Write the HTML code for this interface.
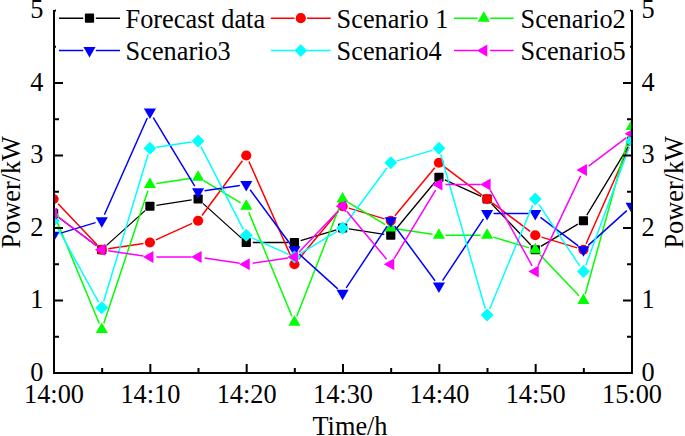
<!DOCTYPE html>
<html><head><meta charset="utf-8"><style>
html,body{margin:0;padding:0;background:#fff;}
svg{display:block;}
text{font-family:"Liberation Serif",serif;font-size:26.3px;fill:#000;}
</style></head><body>
<svg width="685" height="436" viewBox="0 0 685 436">
<defs><clipPath id="pc"><rect x="54.0" y="0" width="578.0" height="373.0"/></clipPath></defs>
<g clip-path="url(#pc)">
<path d="M58.79 217.41L96.57 245.84M106.59 245.39L145.11 210.61M156.36 205.28L191.67 199.97M202.92 203.36L241.44 238.14M252.77 242.50L287.93 242.50M300.66 240.63L336.38 229.87M349.03 228.97L384.34 234.28M394.92 230.25L434.78 182.25M444.86 179.93L481.18 196.32M491.57 203.71L530.79 245.04M540.84 246.40L577.86 224.10M586.79 215.19L628.24 146.56" stroke="#000000" stroke-width="1.3" fill="none"/>
<rect x="49.00" y="208.90" width="9.2" height="9.2" rx="0.8" fill="#000000"/>
<rect x="97.17" y="245.15" width="9.2" height="9.2" rx="0.8" fill="#000000"/>
<rect x="145.33" y="201.65" width="9.2" height="9.2" rx="0.8" fill="#000000"/>
<rect x="193.50" y="194.40" width="9.2" height="9.2" rx="0.8" fill="#000000"/>
<rect x="241.67" y="237.90" width="9.2" height="9.2" rx="0.8" fill="#000000"/>
<rect x="289.83" y="237.90" width="9.2" height="9.2" rx="0.8" fill="#000000"/>
<rect x="338.00" y="223.40" width="9.2" height="9.2" rx="0.8" fill="#000000"/>
<rect x="386.17" y="230.65" width="9.2" height="9.2" rx="0.8" fill="#000000"/>
<rect x="434.33" y="172.65" width="9.2" height="9.2" rx="0.8" fill="#000000"/>
<rect x="482.50" y="194.40" width="9.2" height="9.2" rx="0.8" fill="#000000"/>
<rect x="530.67" y="245.15" width="9.2" height="9.2" rx="0.8" fill="#000000"/>
<rect x="578.83" y="216.15" width="9.2" height="9.2" rx="0.8" fill="#000000"/>
<rect x="627.00" y="136.40" width="9.2" height="9.2" rx="0.8" fill="#000000"/>
<path d="M58.07 203.71L97.29 245.04M108.19 248.78L143.51 243.47M155.86 239.82L192.18 223.43M201.96 215.52L242.41 160.73M248.90 161.44L291.80 258.31M298.59 259.25L338.45 211.25M348.82 208.12L384.54 218.88M394.92 215.75L434.78 167.75M444.13 166.66L481.91 195.09M492.29 202.91L530.07 231.34M541.49 237.12L577.21 247.88M586.07 243.81L628.97 146.94" stroke="#ff0000" stroke-width="1.5" fill="none"/>
<circle cx="53.60" cy="199.00" r="5.1" fill="#ff0000"/>
<circle cx="101.77" cy="249.75" r="5.1" fill="#ff0000"/>
<circle cx="149.93" cy="242.50" r="5.1" fill="#ff0000"/>
<circle cx="198.10" cy="220.75" r="5.1" fill="#ff0000"/>
<circle cx="246.27" cy="155.50" r="5.1" fill="#ff0000"/>
<circle cx="294.43" cy="264.25" r="5.1" fill="#ff0000"/>
<circle cx="342.60" cy="206.25" r="5.1" fill="#ff0000"/>
<circle cx="390.77" cy="220.75" r="5.1" fill="#ff0000"/>
<circle cx="438.93" cy="162.75" r="5.1" fill="#ff0000"/>
<circle cx="487.10" cy="199.00" r="5.1" fill="#ff0000"/>
<circle cx="535.27" cy="235.25" r="5.1" fill="#ff0000"/>
<circle cx="583.43" cy="249.75" r="5.1" fill="#ff0000"/>
<circle cx="631.60" cy="141.00" r="5.1" fill="#ff0000"/>
<path d="M56.09 219.50L99.27 323.50M103.82 323.33L147.88 190.67M156.36 183.53L191.67 178.22M203.67 180.60L240.70 202.90M248.76 212.25L291.94 316.25M296.80 316.20L340.23 205.05M348.17 202.35L385.20 224.65M397.19 228.97L432.51 234.28M445.43 235.25L480.60 235.25M493.32 237.12L529.04 247.88M539.74 254.46L578.96 295.79M585.17 294.24L629.87 132.76" stroke="#00ff00" stroke-width="1.5" fill="none"/>
<path d="M53.60 206.50L59.66 217.00L47.54 217.00Z" fill="#00ff00"/>
<path d="M101.77 322.50L107.83 333.00L95.70 333.00Z" fill="#00ff00"/>
<path d="M149.93 177.50L156.00 188.00L143.87 188.00Z" fill="#00ff00"/>
<path d="M198.10 170.25L204.16 180.75L192.04 180.75Z" fill="#00ff00"/>
<path d="M246.27 199.25L252.33 209.75L240.20 209.75Z" fill="#00ff00"/>
<path d="M294.43 315.25L300.50 325.75L288.37 325.75Z" fill="#00ff00"/>
<path d="M342.60 192.00L348.66 202.50L336.54 202.50Z" fill="#00ff00"/>
<path d="M390.77 221.00L396.83 231.50L384.70 231.50Z" fill="#00ff00"/>
<path d="M438.93 228.25L445.00 238.75L432.87 238.75Z" fill="#00ff00"/>
<path d="M487.10 228.25L493.16 238.75L481.04 238.75Z" fill="#00ff00"/>
<path d="M535.27 242.75L541.33 253.25L529.20 253.25Z" fill="#00ff00"/>
<path d="M583.43 293.50L589.50 304.00L577.37 304.00Z" fill="#00ff00"/>
<path d="M631.60 119.50L637.66 130.00L625.54 130.00Z" fill="#00ff00"/>
<path d="M59.82 233.38L95.54 222.62M104.40 214.81L147.30 117.94M153.29 117.56L194.74 186.19M204.53 190.78L239.84 185.47M250.13 189.73L290.57 244.52M299.26 254.11L337.78 288.89M346.20 287.84L387.17 226.16M394.63 225.98L435.07 280.77M442.53 280.59L483.50 218.91M493.60 213.50L528.77 213.50M540.46 217.41L578.24 245.84M588.26 245.39L626.78 210.61" stroke="#0000ff" stroke-width="1.5" fill="none"/>
<path d="M53.60 242.25L59.66 231.75L47.54 231.75Z" fill="#0000ff"/>
<path d="M101.77 227.75L107.83 217.25L95.70 217.25Z" fill="#0000ff"/>
<path d="M149.93 119.00L156.00 108.50L143.87 108.50Z" fill="#0000ff"/>
<path d="M198.10 198.75L204.16 188.25L192.04 188.25Z" fill="#0000ff"/>
<path d="M246.27 191.50L252.33 181.00L240.20 181.00Z" fill="#0000ff"/>
<path d="M294.43 256.75L300.50 246.25L288.37 246.25Z" fill="#0000ff"/>
<path d="M342.60 300.25L348.66 289.75L336.54 289.75Z" fill="#0000ff"/>
<path d="M390.77 227.75L396.83 217.25L384.70 217.25Z" fill="#0000ff"/>
<path d="M438.93 293.00L445.00 282.50L432.87 282.50Z" fill="#0000ff"/>
<path d="M487.10 220.50L493.16 210.00L481.04 210.00Z" fill="#0000ff"/>
<path d="M535.27 220.50L541.33 210.00L529.20 210.00Z" fill="#0000ff"/>
<path d="M583.43 256.75L589.50 246.25L577.37 246.25Z" fill="#0000ff"/>
<path d="M631.60 213.25L637.66 202.75L625.54 202.75Z" fill="#0000ff"/>
<path d="M56.75 226.44L98.62 302.06M103.65 301.53L148.05 154.47M156.36 147.28L191.67 141.97M201.06 146.79L243.31 229.46M252.19 237.93L288.51 254.32M300.00 253.65L337.03 231.35M346.46 222.77L386.91 167.98M396.99 160.88L432.71 150.12M440.74 154.49L485.30 308.76M489.59 309.00L532.77 205.00M538.86 204.41L579.84 266.09M585.68 265.40L629.35 147.10" stroke="#00ffff" stroke-width="1.5" fill="none"/>
<path d="M53.60 214.35L60.00 220.75L53.60 227.15L47.20 220.75Z" fill="#00ffff"/>
<path d="M101.77 301.35L108.17 307.75L101.77 314.15L95.37 307.75Z" fill="#00ffff"/>
<path d="M149.93 141.85L156.33 148.25L149.93 154.65L143.53 148.25Z" fill="#00ffff"/>
<path d="M198.10 134.60L204.50 141.00L198.10 147.40L191.70 141.00Z" fill="#00ffff"/>
<path d="M246.27 228.85L252.67 235.25L246.27 241.65L239.87 235.25Z" fill="#00ffff"/>
<path d="M294.43 250.60L300.83 257.00L294.43 263.40L288.03 257.00Z" fill="#00ffff"/>
<path d="M342.60 221.60L349.00 228.00L342.60 234.40L336.20 228.00Z" fill="#00ffff"/>
<path d="M390.77 156.35L397.17 162.75L390.77 169.15L384.37 162.75Z" fill="#00ffff"/>
<path d="M438.93 141.85L445.33 148.25L438.93 154.65L432.53 148.25Z" fill="#00ffff"/>
<path d="M487.10 308.60L493.50 315.00L487.10 321.40L480.70 315.00Z" fill="#00ffff"/>
<path d="M535.27 192.60L541.67 199.00L535.27 205.40L528.87 199.00Z" fill="#00ffff"/>
<path d="M583.43 265.10L589.83 271.50L583.43 277.90L577.03 271.50Z" fill="#00ffff"/>
<path d="M631.60 134.60L638.00 141.00L631.60 147.40L625.20 141.00Z" fill="#00ffff"/>
<path d="M58.79 217.41L96.57 245.84M108.19 250.72L143.51 256.03M156.43 257.00L191.60 257.00M204.53 257.97L239.84 263.28M252.69 263.28L288.01 257.97M298.91 252.29L338.13 210.96M346.75 211.25L386.61 259.25M394.13 258.69L435.57 190.06M445.43 184.50L480.60 184.50M490.25 190.19L532.12 265.81M538.05 265.63L580.65 175.87M588.63 166.09L626.41 137.66" stroke="#ff00ff" stroke-width="1.5" fill="none"/>
<path d="M46.60 213.50L57.10 207.44L57.10 219.56Z" fill="#ff00ff"/>
<path d="M94.77 249.75L105.27 243.69L105.27 255.81Z" fill="#ff00ff"/>
<path d="M142.93 257.00L153.43 250.94L153.43 263.06Z" fill="#ff00ff"/>
<path d="M191.10 257.00L201.60 250.94L201.60 263.06Z" fill="#ff00ff"/>
<path d="M239.27 264.25L249.77 258.19L249.77 270.31Z" fill="#ff00ff"/>
<path d="M287.43 257.00L297.93 250.94L297.93 263.06Z" fill="#ff00ff"/>
<path d="M335.60 206.25L346.10 200.19L346.10 212.31Z" fill="#ff00ff"/>
<path d="M383.77 264.25L394.27 258.19L394.27 270.31Z" fill="#ff00ff"/>
<path d="M431.93 184.50L442.43 178.44L442.43 190.56Z" fill="#ff00ff"/>
<path d="M480.10 184.50L490.60 178.44L490.60 190.56Z" fill="#ff00ff"/>
<path d="M528.27 271.50L538.77 265.44L538.77 277.56Z" fill="#ff00ff"/>
<path d="M576.43 170.00L586.93 163.94L586.93 176.06Z" fill="#ff00ff"/>
<path d="M624.60 133.75L635.10 127.69L635.10 139.81Z" fill="#ff00ff"/>
</g>
<path d="M54.0 10V374M632.0 10V374M53 373.0H633" stroke="#000" stroke-width="2" fill="none"/>
<path d="M55 373.00H63M631 373.00H623M55 336.75H59M631 336.75H627M55 300.50H63M631 300.50H623M55 264.25H59M631 264.25H627M55 228.00H63M631 228.00H623M55 191.75H59M631 191.75H627M55 155.50H63M631 155.50H623M55 119.25H59M631 119.25H627M55 83.00H63M631 83.00H623M55 46.75H59M631 46.75H627M55 10.50H63M631 10.50H623M54.00 372V364M102.17 372V368M150.33 372V364M198.50 372V368M246.67 372V364M294.83 372V368M343.00 372V364M391.17 372V368M439.33 372V364M487.50 372V368M535.67 372V364M583.83 372V368M632.00 372V364" stroke="#000" stroke-width="2" fill="none"/>
<rect x="56" y="0" width="574" height="66" fill="#fff"/>
<path d="M59 18.2H83.2M95.8 18.2H120" stroke="#000000" stroke-width="1.5" fill="none"/>
<rect x="84.90" y="13.60" width="9.2" height="9.2" rx="0.8" fill="#000000"/>
<text x="125.6" y="27.7">Forecast data</text>
<path d="M270.8 18.2H294.5M307.1 18.2H330.7" stroke="#ff0000" stroke-width="1.5" fill="none"/>
<circle cx="300.80" cy="18.20" r="5.1" fill="#ff0000"/>
<text x="336.6" y="27.7">Scenario 1</text>
<path d="M454 18.2H477.5M490.1 18.2H513.6" stroke="#00ff00" stroke-width="1.5" fill="none"/>
<path d="M483.80 11.20L489.86 21.70L477.74 21.70Z" fill="#00ff00"/>
<text x="520.6" y="27.7">Scenario2</text>
<path d="M59 50.6H83.2M95.8 50.6H120" stroke="#0000ff" stroke-width="1.5" fill="none"/>
<path d="M89.50 57.60L95.56 47.10L83.44 47.10Z" fill="#0000ff"/>
<text x="125.6" y="60.2">Scenario3</text>
<path d="M270.8 50.6H294.5M307.1 50.6H330.7" stroke="#00ffff" stroke-width="1.5" fill="none"/>
<path d="M300.80 44.20L307.20 50.60L300.80 57.00L294.40 50.60Z" fill="#00ffff"/>
<text x="336.6" y="60.2">Scenario4</text>
<path d="M454 50.6H477.5M490.1 50.6H513.6" stroke="#ff00ff" stroke-width="1.5" fill="none"/>
<path d="M476.80 50.60L487.30 44.54L487.30 56.66Z" fill="#ff00ff"/>
<text x="520.6" y="60.2">Scenario5</text>
<text x="43.5" y="380.50" text-anchor="end">0</text>
<text x="641.5" y="380.50">0</text>
<text x="43.5" y="308.00" text-anchor="end">1</text>
<text x="641.5" y="308.00">1</text>
<text x="43.5" y="235.50" text-anchor="end">2</text>
<text x="641.5" y="235.50">2</text>
<text x="43.5" y="163.00" text-anchor="end">3</text>
<text x="641.5" y="163.00">3</text>
<text x="43.5" y="90.50" text-anchor="end">4</text>
<text x="641.5" y="90.50">4</text>
<text x="43.5" y="18.00" text-anchor="end">5</text>
<text x="641.5" y="18.00">5</text>
<text x="54.00" y="403" text-anchor="middle">14:00</text>
<text x="150.33" y="403" text-anchor="middle">14:10</text>
<text x="246.67" y="403" text-anchor="middle">14:20</text>
<text x="343.00" y="403" text-anchor="middle">14:30</text>
<text x="439.33" y="403" text-anchor="middle">14:40</text>
<text x="535.67" y="403" text-anchor="middle">14:50</text>
<text x="632.00" y="403" text-anchor="middle">15:00</text>
<text x="350" y="435" text-anchor="middle">Time/h</text>
<text transform="translate(20.0 192.3) rotate(-90)" text-anchor="middle">Power/kW</text>
<text transform="translate(683.4 192.3) rotate(-90)" text-anchor="middle">Power/kW</text>
</svg>
</body></html>
